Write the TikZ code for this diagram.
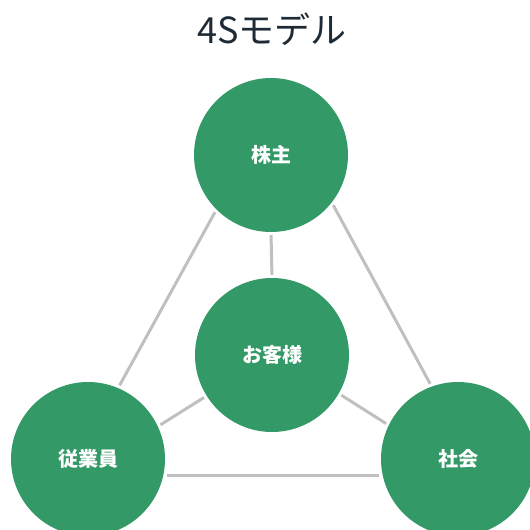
\documentclass[tikz,border=0pt]{standalone}
\usepackage{fontspec}
\setmainfont{Noto Sans CJK JP}
\newfontfamily\jpfont{Noto Sans CJK JP}
\definecolor{circgreen}{RGB}{51,153,103}
\definecolor{linegray}{RGB}{192,192,192}
\definecolor{titleink}{RGB}{30,43,55}

\begin{document}
\begin{tikzpicture}[x=1pt, y=-1pt,
		member/.style={circle, fill=circgreen, minimum size=154pt, inner sep=0pt, text=white, font=\jpfont\bfseries\fontsize{20}{22}\selectfont},
		link/.style={draw=linegray, line width=3pt, shorten >=3pt, shorten <=3pt}]
			\useasboundingbox (0,0) rectangle (530,530);
			% Title
			\node[text=titleink, font=\jpfont\fontsize{36}{40}\selectfont] (title) at (272,29) {4Sモデル};
			% Nodes
			\node[member] (kabunushi) at (271,155) {株主};
			\node[member] (okyakusama) at (272,355) {お客様};
			\node[member] (jugyoin) at (88,459) {従業員};
			\node[member] (shakai) at (458,459) {社会};
			% Links
			\foreach \a/\b in {kabunushi.225/jugyoin.67, kabunushi.-38/shakai.110, kabunushi.south/okyakusama.north,
				okyakusama.212/jugyoin.25, okyakusama.-30/shakai.154, jugyoin.-12/shakai.192} {
				\draw[link] (\a) -- (\b);
			}
		\end{tikzpicture}
\end{document}
